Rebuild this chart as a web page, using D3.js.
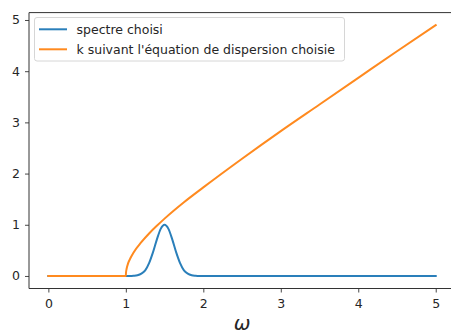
<!DOCTYPE html>
<html>
<head>
<meta charset="utf-8">
<script src="https://cdn.jsdelivr.net/npm/d3@7"></script>
<style>
  body { margin: 0; background: #fff; }
  svg { display: block; font-family: "DejaVu Sans", sans-serif; }
</style>
</head>
<body>
<div id="chart"></div>
<script>
// spectre choisi (gaussienne autour de 1.5)
const omegaSpectre = [0, 0.5, 1.0, 1.05, 1.1, 1.15, 1.2, 1.25, 1.3, 1.35, 1.4, 1.45, 1.5,
  1.55, 1.6, 1.65, 1.7, 1.75, 1.8, 1.85, 1.9, 1.95, 2.0, 3.0, 4.0, 5.0];
const spectre = [0, 0, 0, 0, 0.004, 0.014, 0.044, 0.11, 0.25, 0.46, 0.71, 0.92, 1.0,
  0.92, 0.71, 0.46, 0.25, 0.11, 0.044, 0.014, 0.004, 0, 0, 0, 0, 0];

// k suivant l'équation de dispersion
const omegaK = [0, 0.5, 1.0, 1.002, 1.01, 1.03, 1.06, 1.1, 1.2, 1.3, 1.4, 1.5,
  1.75, 2.0, 2.5, 3.0, 3.5, 4.0, 4.5, 5.0];
const kValues = [0, 0, 0, 0.063, 0.14, 0.25, 0.35, 0.46, 0.66, 0.83, 0.98, 1.12,
  1.44, 1.73, 2.29, 2.83, 3.35, 3.87, 4.39, 4.9];

const xTicks = [0, 1, 2, 3, 4, 5];
const yTicks = [0, 1, 2, 3, 4, 5];
const seriesNames = ["spectre choisi", "k suivant l'équation de dispersion choisie"];
const colors = ["#2a7fba", "#ff8a1f"];

const width = 451, height = 334;
const margin = {top: 12.6, right: -4.1, bottom: 45.5, left: 29};
const fontSize = 12.5;

const svg = d3.select("#chart")
  .append("svg")
  .attr("width", width)
  .attr("height", height);

const x = d3.scaleLinear()
  .domain([-0.25, 5.25])
  .range([margin.left, width - margin.right]);

const y = d3.scaleLinear()
  .domain([-0.245, 5.1445])
  .range([height - margin.bottom, margin.top]);

// axes
const xAxis = svg.append("g")
  .attr("transform", "translate(0," + y.range()[0] + ")")
  .call(d3.axisBottom(x).tickValues(xTicks).tickFormat(d3.format("d"))
    .tickSizeInner(4).tickSizeOuter(0).tickPadding(6.5));

const yAxis = svg.append("g")
  .attr("transform", "translate(" + x.range()[0] + ",0)")
  .call(d3.axisLeft(y).tickValues(yTicks).tickFormat(d3.format("d"))
    .tickSizeInner(4).tickSizeOuter(0).tickPadding(5));

[xAxis, yAxis].forEach(function(g) {
  g.select(".domain").remove();
  g.selectAll(".tick line").attr("stroke", "#333").attr("stroke-width", 0.9);
  g.selectAll(".tick text")
    .attr("font-family", "DejaVu Sans")
    .attr("font-size", fontSize)
    .attr("fill", "#262626");
});

// spines
svg.append("g")
  .attr("fill", "none")
  .attr("stroke", "#333")
  .attr("stroke-width", 1)
  .selectAll("line")
  .data([
    [x.range()[0], y.range()[0], x.range()[0], y.range()[1]],
    [x.range()[0], y.range()[0], x.range()[1], y.range()[0]],
    [x.range()[0], y.range()[1], x.range()[1], y.range()[1]],
    [x.range()[1], y.range()[0], x.range()[1], y.range()[1]]
  ])
  .join("line")
  .attr("x1", d => d[0]).attr("y1", d => d[1])
  .attr("x2", d => d[2]).attr("y2", d => d[3]);

// lines
const line = d3.line()
  .x(d => x(d[0]))
  .y(d => y(d[1]))
  .curve(d3.curveMonotoneX);

const series = [
  d3.zip(omegaSpectre, spectre),
  d3.zip(omegaK, kValues)
];

svg.append("g")
  .selectAll("path")
  .data(series)
  .join("path")
  .attr("fill", "none")
  .attr("stroke", (d, i) => colors[i])
  .attr("stroke-width", 2)
  .attr("stroke-linejoin", "round")
  .attr("stroke-linecap", "square")
  .attr("d", line);

// legend
const legend = svg.append("g");
legend.append("rect")
  .attr("x", 34.5).attr("y", 17.5)
  .attr("width", 310).attr("height", 43.5)
  .attr("rx", 2.5)
  .attr("fill", "#fff").attr("fill-opacity", 0.8)
  .attr("stroke", "#d6d6d6").attr("stroke-width", 1);

const rows = legend.selectAll("g.row")
  .data(seriesNames)
  .join("g")
  .attr("class", "row")
  .attr("transform", (d, i) => "translate(0," + (29.3 + i * 20) + ")");

rows.append("line")
  .attr("x1", 39).attr("x2", 67)
  .attr("stroke", (d, i) => colors[i])
  .attr("stroke-width", 2);

rows.append("text")
  .attr("x", 76.5)
  .attr("dy", "0.35em")
  .attr("font-size", fontSize)
  .attr("fill", "#262626")
  .text(d => d);

// x label (kept just inside the bottom edge)
svg.append("text")
  .attr("x", (x.range()[0] + x.range()[1]) / 2)
  .attr("y", 330)
  .attr("text-anchor", "middle")
  .attr("font-family", "DejaVu Sans")
  .attr("font-style", "italic")
  .attr("font-size", 20)
  .attr("fill", "#262626")
  .text("ω");
</script>
</body>
</html>
